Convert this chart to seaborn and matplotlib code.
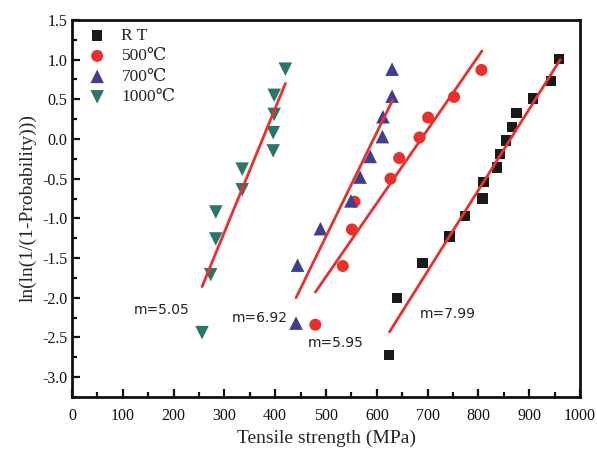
import pandas as pd
import matplotlib.pyplot as plt
from matplotlib.ticker import MultipleLocator
import seaborn as sns

sns.set_theme(style="ticks")
plt.rcParams['font.family'] = ['Liberation Serif', 'DejaVu Serif']
plt.rcParams['axes.unicode_minus'] = False

# Tensile strength (MPa) and ln(ln(1/(1-P))) for each condition
groups = ['R T', '500℃', '700℃', '1000℃']

rt_x = [624, 640, 690, 743, 774, 808, 810, 836, 842, 854, 866, 875, 907, 943, 959]
rt_y = [-2.72, -2.00, -1.56, -1.23, -0.97, -0.75, -0.54, -0.36, -0.19, -0.02, 0.15, 0.33, 0.51, 0.73, 1.01]

t500_x = [479, 533, 551, 556, 627, 644, 684, 701, 752, 806]
t500_y = [-2.34, -1.60, -1.14, -0.79, -0.50, -0.24, 0.02, 0.27, 0.53, 0.87]

t700_x = [441, 444, 489, 549, 567, 587, 611, 612, 630, 630]
t700_y = [-2.32, -1.59, -1.13, -0.78, -0.48, -0.22, 0.03, 0.28, 0.54, 0.88]

t1000_x = [256, 273, 283, 283, 335, 335, 396, 396, 398, 398, 420]
t1000_y = [-2.44, -1.71, -1.26, -0.92, -0.64, -0.38, -0.15, 0.08, 0.31, 0.55, 0.88]

# fitted lines (end points)
fit_x = [[625, 961], [479, 807], [441, 631], [256, 420]]
fit_y = [[-2.43, 1.00], [-1.93, 1.11], [-2.00, 0.49], [-1.86, 0.70]]

# Weibull modulus labels
m_labels = ['m=7.99', 'm=5.95', 'm=6.92', 'm=5.05']
m_x = [740, 519, 369, 177]
m_y = [-2.21, -2.57, -2.25, -2.16]

frames = []
for g, xs, ys in zip(groups, [rt_x, t500_x, t700_x, t1000_x], [rt_y, t500_y, t700_y, t1000_y]):
    frames.append(pd.DataFrame({'strength': xs, 'weibull': ys, 'group': g}))
df = pd.concat(frames, ignore_index=True)

palette = {'R T': '#1a1a1a', '500℃': '#e8312d', '700℃': '#3f3f8f', '1000℃': '#2b756a'}
markers = {'R T': 's', '500℃': 'o', '700℃': '^', '1000℃': 'v'}
sizes = {'R T': 55, '500℃': 75, '700℃': 95, '1000℃': 95}

fig = plt.figure(figsize=(5.97, 4.5), dpi=100)
ax = fig.add_axes([0.1206, 0.118, 0.851, 0.8376])

for g in groups:
    sub = df[df['group'] == g]
    sns.scatterplot(data=sub, x='strength', y='weibull', color=palette[g], marker=markers[g],
                    s=sizes[g], edgecolor='none', label=g, ax=ax, zorder=2)

for xs, ys in zip(fit_x, fit_y):
    ax.plot(xs, ys, color='#e8312d', lw=2, zorder=3)

for lab, x, y in zip(m_labels, m_x, m_y):
    ax.text(x, y, lab, ha='center', va='center', fontsize=10, family=['DejaVu Sans'], color='#222222')

ax.set_xlim(0, 1000)
ax.set_ylim(-3.25, 1.5)
ax.xaxis.set_major_locator(MultipleLocator(100))
ax.xaxis.set_minor_locator(MultipleLocator(50))
ax.yaxis.set_major_locator(MultipleLocator(0.5))
ax.yaxis.set_minor_locator(MultipleLocator(0.25))
ax.yaxis.set_major_formatter(plt.FormatStrFormatter('%.1f'))
ax.tick_params(which='both', direction='in', width=1.6, labelsize=11.5, colors='#111111')
ax.tick_params(which='major', length=6)
ax.tick_params(which='minor', length=3.5)
ax.tick_params(axis='x', pad=8)
for sp in ax.spines.values():
    sp.set_linewidth(2)
    sp.set_color('#111111')

ax.set_xlabel('Tensile strength (MPa)', fontsize=14)
ax.set_ylabel('ln(ln(1/(1-Probability)))', fontsize=14)

leg = ax.legend(loc='upper left', frameon=False, fontsize=12.5, handletextpad=0.4,
                labelspacing=0.25, borderaxespad=0.05, markerscale=1.0)

plt.savefig('out.png', dpi=100)
plt.close()
